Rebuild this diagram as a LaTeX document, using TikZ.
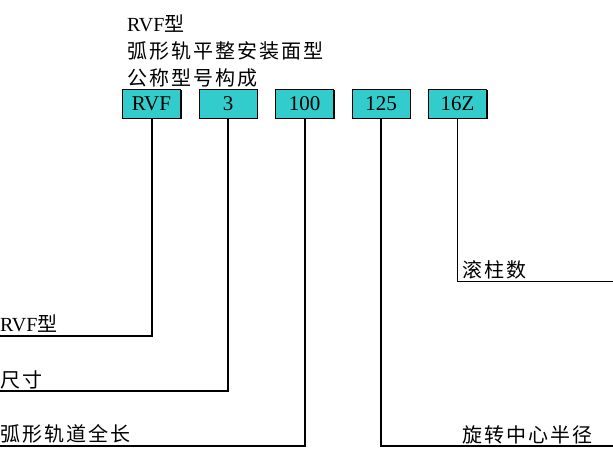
\documentclass[tikz,border=0pt]{standalone}
\usepackage{fontspec}
\setmainfont{Liberation Serif}
\newfontfamily\cjk[LetterSpace=10]{Noto Sans CJK SC}
\usetikzlibrary{shadows}
\definecolor{boxcyan}{HTML}{33CCCC}

\begin{document}
\begin{tikzpicture}[x=1pt,y=-1pt,
		code/.style={rectangle,draw,line width=0.8pt,fill=boxcyan,minimum width=58pt,minimum height=29pt,inner sep=0pt,
			font=\fontsize{21}{26}\selectfont,
			drop shadow={shadow xshift=1.2pt,shadow yshift=-1.2pt,opacity=1,fill=black}},
		label/.style={anchor=base west,inner sep=0pt},
		lead/.style={line width=2pt}]
		\useasboundingbox (0,0) rectangle (613,463);
		\fontsize{20}{26}\selectfont

		\node[label] (titre1) at (127,31) {RVF{\cjk 型}};
		\node[label] (titre2) at (127,58) {\cjk 弧形轨平整安装面型};
		\node[label] (titre3) at (127,85) {\cjk 公称型号构成};

		\node[code] (type) at (151.5,103.7) {RVF};
		\node[code] (taille) at (228,103.7) {3};
		\node[code] (longueur) at (304.5,103.7) {100};
		\node[code] (rayon) at (381,103.7) {125};
		\node[code] (rouleaux) at (457.5,103.7) {16Z};

		\node[label] (ltype) at (0,331) {RVF{\cjk 型}};
		\node[label] (ltaille) at (0,387) {\cjk 尺寸};
		\node[label] (llongueur) at (0,441.5) {\cjk 弧形轨道全长};
		\node[label] (lrouleaux) at (462.5,277.5) {\cjk 滚柱数};
		\node[label] (lrayon) at (462.5,442) {\cjk 旋转中心半径};

		\coordinate (ftype) at (0,336);
		\coordinate (ftaille) at (0,391);
		\coordinate (flongueur) at (0,445.5);
		\coordinate (frayon) at (613,445.5);
		\coordinate (frouleaux) at (613,281.5);

		\draw[lead] (type.south) |- (ftype);
		\draw[lead] (taille.south) |- (ftaille);
		\draw[lead] (longueur.south) |- (flongueur);
		\draw[lead] (rayon.south) |- (frayon);
		\draw[line width=1.2pt] (rouleaux.south) |- (frouleaux);
	\end{tikzpicture}
\end{document}
